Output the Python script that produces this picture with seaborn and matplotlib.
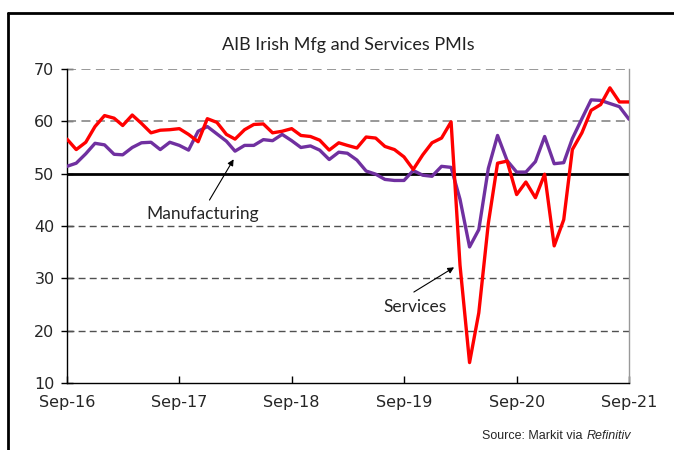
import pandas as pd
import seaborn as sns
import matplotlib.pyplot as plt
import matplotlib.dates as mdates
from matplotlib.lines import Line2D

# monthly PMI readings, Sep-16 .. Sep-21
mfg = [51.4, 52.0, 53.8, 55.8, 55.5, 53.7, 53.6, 55.0, 55.9, 56.0,
       54.6, 56.0, 55.4, 54.5, 58.1, 59.0, 57.6, 56.2, 54.3, 55.4,
       55.4, 56.5, 56.3, 57.5, 56.3, 55.0, 55.3, 54.5, 52.7, 54.1,
       53.9, 52.6, 50.5, 49.9, 48.9, 48.7, 48.7, 50.6, 49.7, 49.5,
       51.4, 51.2, 45.1, 36.0, 39.3, 51.0, 57.3, 52.5, 50.3, 50.3,
       52.3, 57.1, 51.9, 52.1, 56.7, 60.5, 64.1, 64.0, 63.4, 62.8,
       60.4]
services = [56.6, 54.6, 56.0, 59.0, 61.1, 60.6, 59.2, 61.2, 59.6, 57.8,
            58.3, 58.4, 58.6, 57.5, 56.1, 60.5, 59.8, 57.5, 56.6, 58.4,
            59.4, 59.5, 57.8, 58.1, 58.6, 57.3, 57.1, 56.4, 54.5, 55.9,
            55.4, 54.9, 57.0, 56.8, 55.2, 54.6, 53.2, 50.8, 53.6, 55.9,
            56.8, 59.9, 32.5, 13.9, 23.4, 40.5, 52.0, 52.4, 46.0, 48.4,
            45.4, 49.9, 36.2, 41.2, 54.6, 57.8, 62.1, 63.2, 66.4, 63.7,
            63.7]
months = pd.date_range("2016-09-01", periods=len(mfg), freq="MS")
tick_dates = pd.date_range("2016-09-01", "2021-09-01", freq="12MS")

df = pd.DataFrame({"month": months, "Manufacturing": mfg, "Services": services})

sns.set_style("white")
plt.rcParams["font.family"] = ["DejaVu Sans"]

fig = plt.figure(figsize=(6.74, 4.5), dpi=100)
ax = fig.add_axes([0.0994, 0.1489, 0.8338, 0.6978])

# gridlines
for v in [20, 30, 40]:
    ax.axhline(v, color="#505050", lw=1.0, ls=(0, (5, 3)), zorder=1)
for v in [60, 70]:
    ax.axhline(v, color="#909090", lw=1.3, ls=(0, (5, 3)), zorder=1)
ax.axhline(50, color="black", lw=2.0, zorder=2)

sns.lineplot(data=df, x="month", y="Manufacturing", color="#7030A0", lw=2.4, ax=ax, zorder=3)
sns.lineplot(data=df, x="month", y="Services", color="#FF0000", lw=2.4, ax=ax, zorder=4)

ax.set_xlim(months[0], months[-1])
ax.set_ylim(10, 70)
ax.set_yticks(range(10, 71, 10))
ax.set_xticks(tick_dates)
ax.xaxis.set_major_formatter(mdates.DateFormatter("%b-%y"))
ax.set_xlabel("")
ax.set_ylabel("")

for s in ["left", "bottom"]:
    ax.spines[s].set_color("black")
    ax.spines[s].set_linewidth(1.0)
ax.spines["right"].set_color("#999999")
ax.spines["right"].set_linewidth(1.0)
ax.spines["top"].set_visible(False)

ax.tick_params(axis="x", direction="in", length=5, width=1, color="black",
               labelsize=11.5, pad=9, bottom=True)
ax.tick_params(axis="y", direction="inout", length=8, width=1, color="black",
               labelsize=11.5, pad=5, left=True)

ax.set_title("AIB Irish Mfg and Services PMIs", fontsize=13, family="Lato",
             color="#222222", pad=14)

# labels with arrows
ax.text(0.242, 0.538, "Manufacturing", transform=ax.transAxes, ha="center",
        va="center", fontsize=12.5, family="Lato")
ax.annotate("", xy=(0.299, 0.720), xytext=(0.251, 0.575), xycoords="axes fraction",
            arrowprops=dict(arrowstyle="-|>", color="black", lw=0.8, mutation_scale=9))
ax.text(0.619, 0.242, "Services", transform=ax.transAxes, ha="center",
        va="center", fontsize=12.5, family="Lato")
ax.annotate("", xy=(0.693, 0.373), xytext=(0.613, 0.285), xycoords="axes fraction",
            arrowprops=dict(arrowstyle="-|>", color="black", lw=0.8, mutation_scale=9))

fig.text(0.870, 0.032, "Source: Markit via ", ha="right", va="center", fontsize=9,
         family="Liberation Sans")
fig.text(0.870, 0.032, "Refinitiv", ha="left", va="center", fontsize=9,
         family="Liberation Sans", style="italic")

# outer frame (left and top edges)
fig.add_artist(Line2D([8 / 674, 8 / 674], [0, 1 - 13 / 450], color="black", lw=2))
fig.add_artist(Line2D([8 / 674, 1], [1 - 13 / 450, 1 - 13 / 450], color="black", lw=2))

fig.savefig("out.png", dpi=100)
